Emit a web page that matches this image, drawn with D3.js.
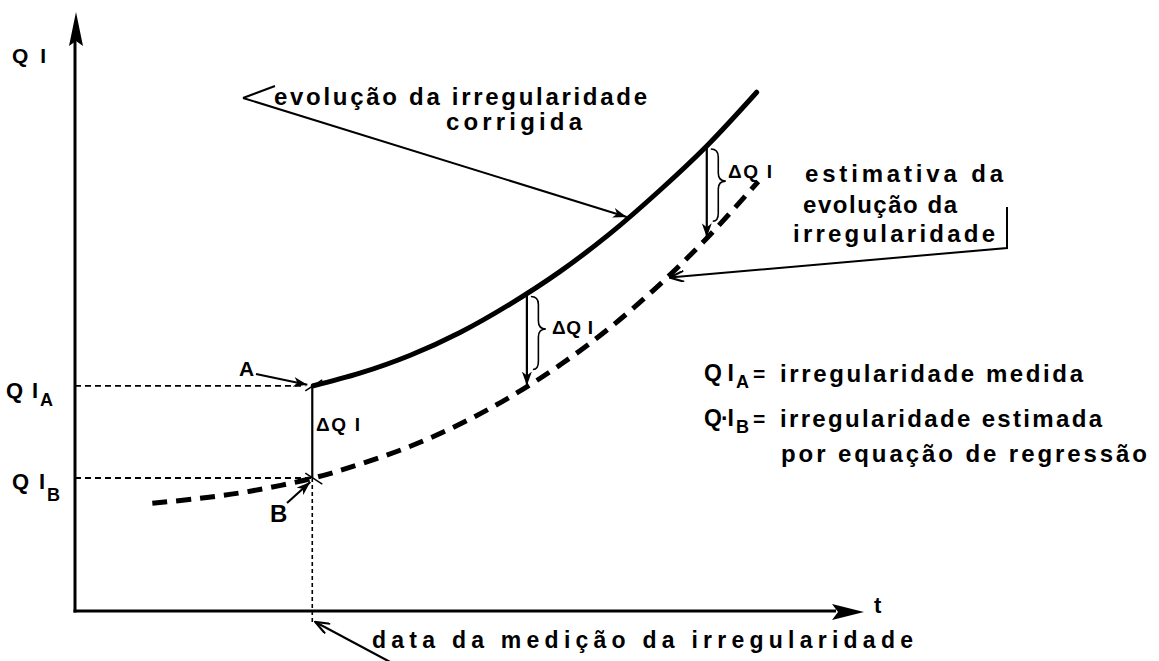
<!DOCTYPE html>
<html>
<head>
<meta charset="utf-8">
<script src="https://cdn.jsdelivr.net/npm/d3@7"></script>
<style>
  body { margin: 0; background: #fff; }
  text { font-family: "Liberation Sans", Arial, sans-serif; font-weight: bold; fill: #000; }
</style>
</head>
<body>
<script>
// evolução da irregularidade: medida (A) x estimada por regressão (B)
// values, in arbitrary units (0..10 on both axes)

var tMeas = 3.02;                 // data da medição
var qiA = 3.76, qiB = 2.22;       // QI_A medida, QI_B estimada

// corrected evolution (solid)
var solidT  = [3.02, 3.61, 4.25, 4.88, 5.51, 6.15, 6.78, 7.41, 8.02, 8.64];
var solidQI = [3.76, 3.97, 4.27, 4.65, 5.12, 5.67, 6.30, 7.02, 7.78, 8.66];

// regression estimate (dashed)
var dashT  = [0.98, 1.58, 2.22, 3.02, 3.61, 4.25, 4.88, 5.51, 6.15, 6.78, 7.41, 8.02, 8.66];
var dashQI = [1.80, 1.88, 2.00, 2.22, 2.45, 2.75, 3.12, 3.57, 4.11, 4.73, 5.45, 6.24, 7.17];

// where the ΔQI gap is marked
var deltaT = [3.02, 5.74, 8.02];

var width = 1159, height = 661;

var x = d3.scaleLinear().domain([0, 10]).range([75, 864]);
var y = d3.scaleLinear().domain([0, 10]).range([611, 12]);

var svg = d3.select("body").append("svg")
    .attr("width", width)
    .attr("height", height);

// markers
var defs = svg.append("defs");
defs.append("marker")
    .attr("id", "head")
    .attr("markerUnits", "userSpaceOnUse")
    .attr("viewBox", "0 0 14 10")
    .attr("refX", 14).attr("refY", 5)
    .attr("markerWidth", 14).attr("markerHeight", 10)
    .attr("orient", "auto")
    .append("path")
    .attr("d", "M0,0 L14,5 L0,10 L4,5 Z")
    .attr("fill", "#000");
defs.append("marker")
    .attr("id", "open")
    .attr("markerUnits", "userSpaceOnUse")
    .attr("viewBox", "0 0 16 12")
    .attr("refX", 15).attr("refY", 6)
    .attr("markerWidth", 16).attr("markerHeight", 12)
    .attr("orient", "auto")
    .append("path")
    .attr("d", "M1,0.5 L15,6 L1,11.5")
    .attr("fill", "none")
    .attr("stroke", "#000")
    .attr("stroke-width", 2.2);

function interp(ts, vs, t) {
    for (var i = 1; i < ts.length; i++) {
        if (t <= ts[i]) {
            var f = (t - ts[i - 1]) / (ts[i] - ts[i - 1]);
            return vs[i - 1] + f * (vs[i] - vs[i - 1]);
        }
    }
    return vs[vs.length - 1];
}

// axes (plain arrowed lines, no ticks)
var x0 = x(0), y0 = y(0);
svg.append("line")
    .attr("x1", x0).attr("y1", y0 + 1.5)
    .attr("x2", x0).attr("y2", y(10) + 28)
    .attr("stroke", "#000").attr("stroke-width", 3);
svg.append("path")
    .attr("d", "M" + (x0 + 1) + "," + y(10) + " L" + (x0 + 8) + "," + (y(10) + 34) +
        " L" + (x0 + 1) + "," + (y(10) + 29) + " L" + (x0 - 6) + "," + (y(10) + 34) + " Z")
    .attr("fill", "#000");
svg.append("line")
    .attr("x1", x0 - 1.5).attr("y1", y0)
    .attr("x2", x(10) - 28).attr("y2", y0)
    .attr("stroke", "#000").attr("stroke-width", 3);
svg.append("path")
    .attr("d", "M" + x(10) + "," + (y0 + 1) + " L" + (x(10) - 32) + "," + (y0 - 7) +
        " L" + (x(10) - 26) + "," + (y0 + 1) + " L" + (x(10) - 32) + "," + (y0 + 9) + " Z")
    .attr("fill", "#000");

// guide lines to QI_A, QI_B and to the measurement date
svg.append("line")
    .attr("x1", x0).attr("y1", y(qiA))
    .attr("x2", x(tMeas) - 8).attr("y2", y(qiA))
    .attr("stroke", "#000").attr("stroke-width", 1.8)
    .attr("stroke-dasharray", "6,4");
svg.append("line")
    .attr("x1", x0).attr("y1", y(qiB))
    .attr("x2", x(tMeas)).attr("y2", y(qiB))
    .attr("stroke", "#000").attr("stroke-width", 1.8)
    .attr("stroke-dasharray", "6,4");
svg.append("line")
    .attr("x1", x(tMeas) - 1).attr("y1", y(qiB))
    .attr("x2", x(tMeas) - 1).attr("y2", y0 + 12)
    .attr("stroke", "#000").attr("stroke-width", 1.6)
    .attr("stroke-dasharray", "4,3");

// curves
var line = d3.line()
    .x(function(d) { return x(d[0]); })
    .y(function(d) { return y(d[1]); })
    .curve(d3.curveCatmullRom.alpha(0.5));

svg.append("path")
    .datum(d3.zip(dashT, dashQI))
    .attr("d", line)
    .attr("fill", "none")
    .attr("stroke", "#000")
    .attr("stroke-width", 5)
    .attr("stroke-dasharray", "15,9");

svg.append("path")
    .datum(d3.zip(solidT, solidQI))
    .attr("d", line)
    .attr("fill", "none")
    .attr("stroke", "#000")
    .attr("stroke-width", 5)
    .attr("stroke-linecap", "round");

// ΔQI gaps
deltaT.forEach(function(t, i) {
    var top = y(interp(solidT, solidQI, t)) + (i == 0 ? 0 : 2);
    var bot = y(interp(dashT, dashQI, t));
    var xt = x(t) - 1;
    var l = svg.append("line")
        .attr("x1", xt).attr("y1", top)
        .attr("x2", xt).attr("y2", bot)
        .attr("stroke", "#000").attr("stroke-width", 2.2);
    if (i > 0) {
        l.attr("marker-end", "url(#head)");
        // curly brace
        var bx = xt + 4, w = 15, yt = top + 2, yb = bot - 16, ym = (yt + yb) / 2 - 4, r = 8;
        svg.append("path")
            .attr("d", "M" + bx + "," + yt +
                " Q" + (bx + w / 2) + "," + yt + " " + (bx + w / 2) + "," + (yt + r) +
                " L" + (bx + w / 2) + "," + (ym - r) +
                " Q" + (bx + w / 2) + "," + ym + " " + (bx + w) + "," + ym +
                " Q" + (bx + w / 2) + "," + ym + " " + (bx + w / 2) + "," + (ym + r) +
                " L" + (bx + w / 2) + "," + (yb - r) +
                " Q" + (bx + w / 2) + "," + yb + " " + (bx + 2) + "," + yb)
            .attr("fill", "none").attr("stroke", "#000").attr("stroke-width", 1.6);
    }
});

// small cross marks at A and B
[[qiA, -1], [qiB, 1]].forEach(function(p) {
    var cx = x(tMeas), cy = y(p[0]);
    svg.append("line")
        .attr("x1", cx - 8).attr("y1", cy - 5 * p[1])
        .attr("x2", cx + 9).attr("y2", cy + 6 * p[1])
        .attr("stroke", "#000").attr("stroke-width", 1.5);
});

// arrows for annotations
function arrow(pts, marker, sw) {
    svg.append("path")
        .attr("d", d3.line()(pts))
        .attr("fill", "none")
        .attr("stroke", "#000")
        .attr("stroke-width", sw || 2)
        .attr("marker-end", marker ? "url(#" + marker + ")" : null);
}
arrow([[256, 374], [x(tMeas) - 6, y(qiA) - 1]], "head", 2.2);
arrow([[287, 503], [x(tMeas) - 3, y(qiB) + 4]], "head", 2.2);
arrow([[243, 98], [x(6.98) + 1, y(interp(solidT, solidQI, 6.98)) - 3]], "head", 2);
arrow([[275, 86], [243, 98]], null, 2);
arrow([[1007, 207], [1007, 248], [x(7.5) + 3, y(interp(dashT, dashQI, 7.5))]], "open", 2);
arrow([[392, 663], [x(tMeas) + 2, y0 + 11]], "open", 2.2);

// texts
function label(txt, px, py, size, len) {
    var t = svg.append("text")
        .attr("x", px).attr("y", py)
        .attr("font-size", size)
        .text(txt);
    if (len) t.attr("textLength", len).attr("lengthAdjust", "spacing");
    return t;
}

label("Q I", 12, 63, 21, 34);
label("t", 874, 613, 22);

label("Q I", 6, 398, 22, 32);
label("A", 40, 406, 18);
label("Q I", 12, 489, 22, 33);
label("B", 47, 501, 18);

label("A", 239, 376, 21);
label("B", 270, 522, 24);

label("ΔQ I", 316, 431, 19, 44);
label("ΔQ I", 552, 334, 19, 41);
label("ΔQ I", 728, 178, 19, 44);

label("evolução da irregularidade", 274, 105, 24, 373);
label("corrigida", 446, 130, 24, 136);

label("estimativa da", 805, 182, 24, 198);
label("evolução da", 803, 213, 24, 154);
label("irregularidade", 793, 242, 24, 202);

label("Q I", 704, 381, 23, 30);
label("A", 736, 388, 18);
label("=", 753, 381, 21);
label("irregularidade  medida", 780, 382, 24, 303);

label("Q·I", 704, 426, 23, 30);
label("B", 736, 433, 18);
label("=", 753, 426, 21);
label("irregularidade  estimada", 780, 427, 24, 322);
label("por equação de regressão", 781, 462, 24, 366);

label("data da medição da irregularidade", 372, 648, 23, 541);
</script>
</body>
</html>
